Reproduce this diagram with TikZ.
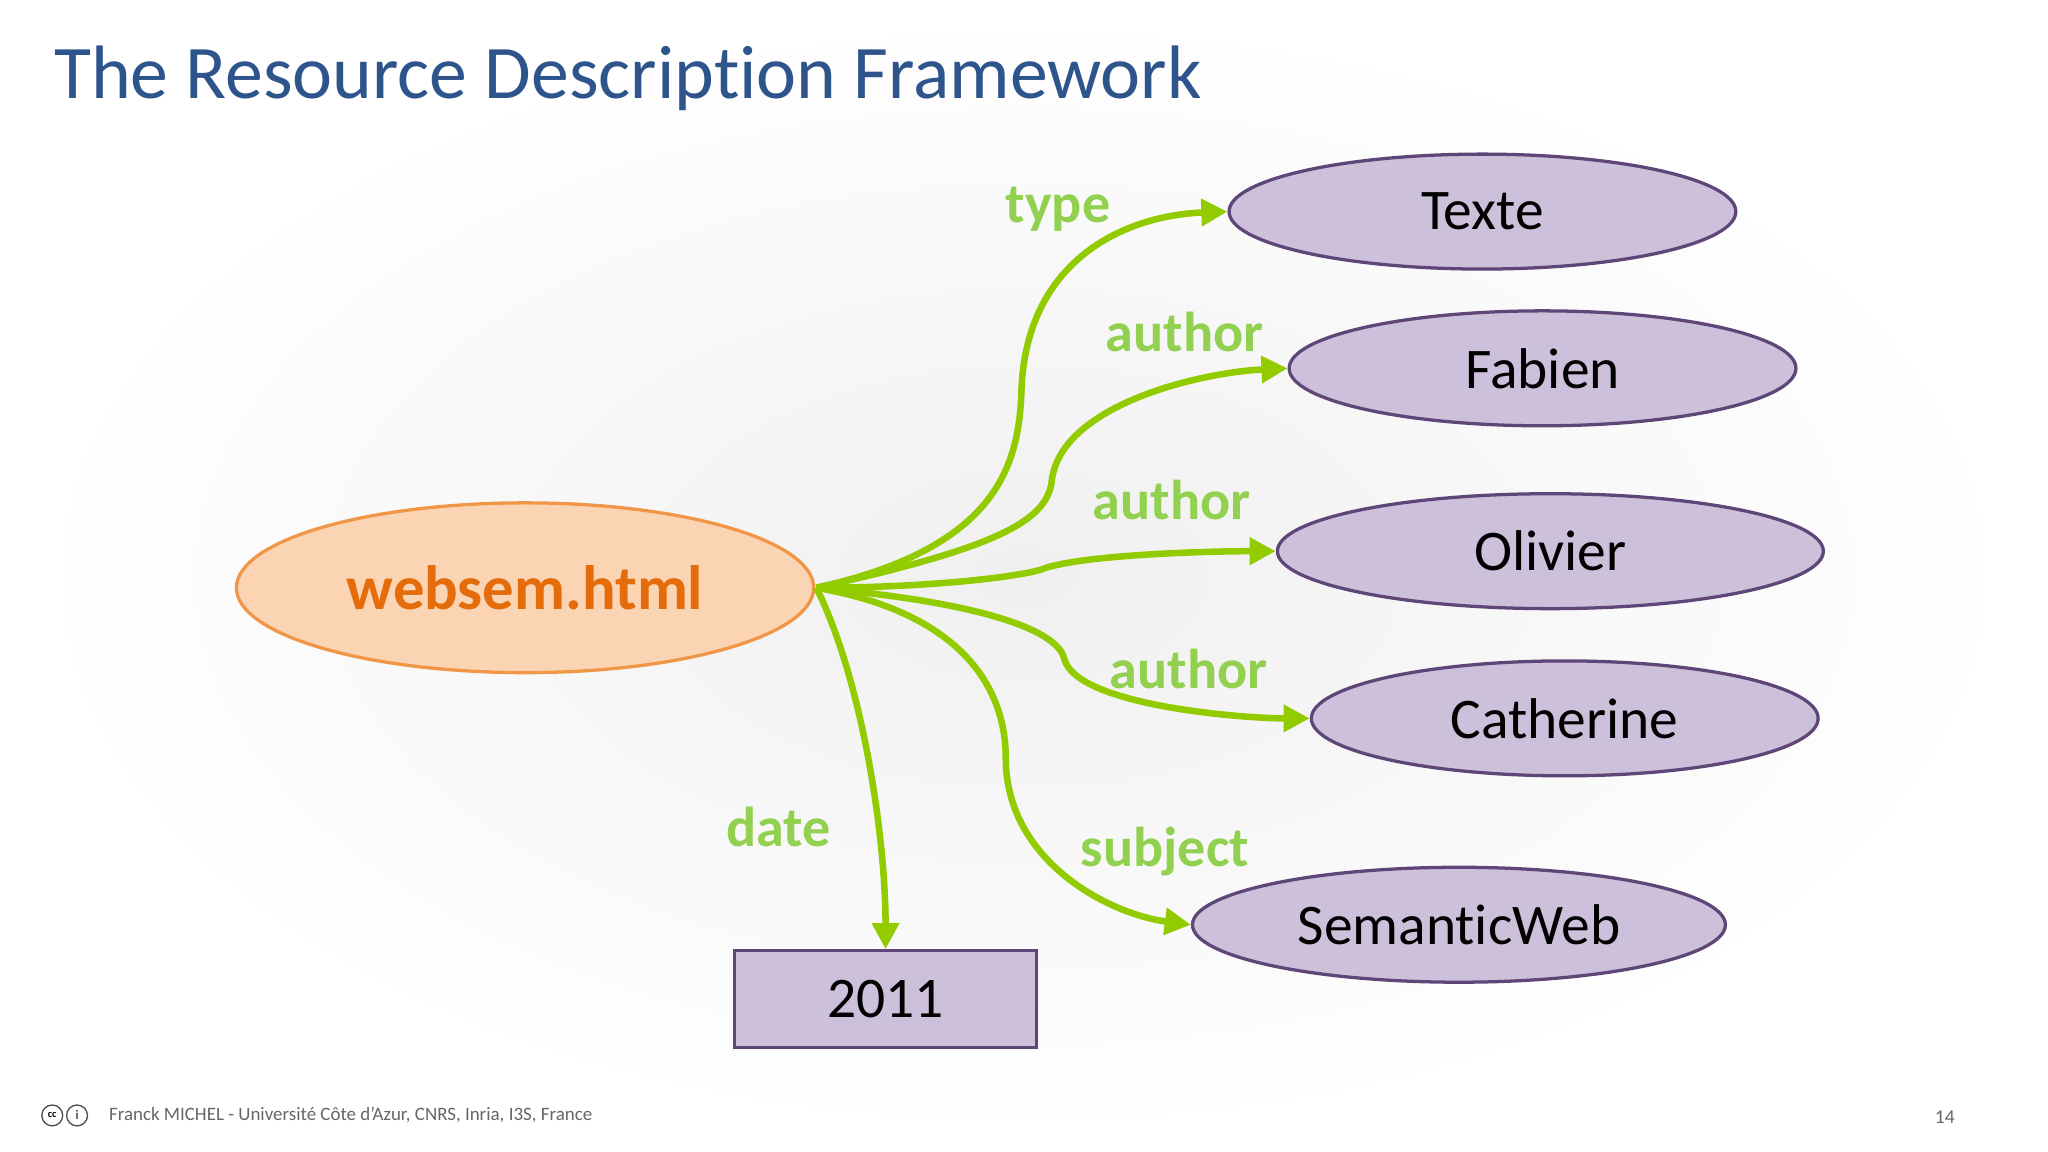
\documentclass[tikz,border=0pt]{standalone}
\usepackage{fontspec}
\setmainfont[Ligatures=NoCommon]{Carlito}
\usetikzlibrary{arrows.meta,shapes.geometric}
\definecolor{titleblue}{RGB}{46,84,140}
\definecolor{peach}{RGB}{251,212,180}
\definecolor{orangeb}{RGB}{240,150,70}
\definecolor{orangetxt}{RGB}{228,108,10}
\definecolor{lav}{RGB}{204,192,218}
\definecolor{lavb}{RGB}{94,70,120}
\definecolor{lblgreen}{RGB}{146,208,80}
\definecolor{edgegreen}{RGB}{146,204,0}
\begin{document}
\begin{tikzpicture}[x=1pt,y=-1pt,
  obj/.style={ellipse,draw=lavb,fill=lav,line width=2.5pt,minimum height=88pt,font=\fontsize{44}{48}\selectfont,inner sep=0pt},
  lbl/.style={text=lblgreen,font=\fontsize{43}{46}\selectfont\bfseries},
  edge/.style={draw=edgegreen,line width=5pt,-{Triangle[length=20pt,width=20pt]}}]
\useasboundingbox (0,0) rectangle (1568,882);
\fill[white] (0,0) rectangle (1568,882);
\shade[inner color=black!6,outer color=white] (784,441) ellipse (760pt and 430pt);
\node[anchor=west,text=titleblue,font=\fontsize{58}{64}\selectfont] (title) at (38,60) {The Resource Description Framework};
\node[ellipse,draw=orangeb,fill=peach,line width=2.5pt,minimum width=442pt,minimum height=130pt,text=orangetxt,font=\fontsize{48}{52}\selectfont\bfseries] (w) at (402,450) {websem.html};
\node[obj,minimum width=388pt] (t) at (1135,162) {Texte};
\node[obj,minimum width=388pt] (f) at (1181,282) {Fabien};
\node[obj,minimum width=418pt] (o) at (1187,422) {Olivier};
\node[obj,minimum width=388pt] (c) at (1198,550) {Catherine};
\node[obj,minimum width=408pt] (s) at (1117,708) {SemanticWeb};
\node[draw=lavb,fill=lav,line width=2.5pt,minimum width=231pt,minimum height=74pt,font=\fontsize{44}{48}\selectfont] (d) at (678,765) {2011};
\coordinate (src) at (625,450);
\draw[edge] (src) .. controls (760,420) and (780,360) .. (782,300) .. controls (785,200) and (860,165) .. (t.west);
\draw[edge] (src) .. controls (760,420) and (800,400) .. (805,370) .. controls (810,310) and (920,285) .. (f.west);
\draw[edge] (src) .. controls (720,450) and (790,440) .. (800,435) .. controls (830,425) and (920,422) .. (o.west);
\draw[edge] (src) .. controls (740,460) and (810,480) .. (815,505) .. controls (825,540) and (950,550) .. (c.west);
\draw[edge] (src) .. controls (740,470) and (770,530) .. (770,580) .. controls (770,660) and (850,700) .. (s.west);
\draw[edge] (src) .. controls (660,520) and (678,640) .. (d.north);
\node[lbl] (lt) at (810,160) {type};
\node[lbl] (la1) at (907,254) {author};
\node[lbl] (la2) at (897,383) {author};
\node[lbl] (la3) at (910,512) {author};
\node[lbl] (ls) at (892,652) {subject};
\node[lbl] (ld) at (596,633) {date};
\node[circle,draw=black!70,line width=1pt,minimum size=16pt,inner sep=0pt,font=\fontsize{8}{8}\selectfont\bfseries] (cc) at (40,854) {cc};
\node[circle,draw=black!70,line width=1pt,minimum size=16pt,inner sep=0pt,font=\fontsize{10}{10}\selectfont] (by) at (59,854) {i};
\node[anchor=west,text=black!60,font=\fontsize{14.5}{16}\selectfont] (foot) at (80,854) {Franck MICHEL - Université Côte d’Azur, CNRS, Inria, I3S, France};
\node[text=black!60,font=\fontsize{15}{16}\selectfont] (pg) at (1489,855) {14};
\end{tikzpicture}
\end{document}
